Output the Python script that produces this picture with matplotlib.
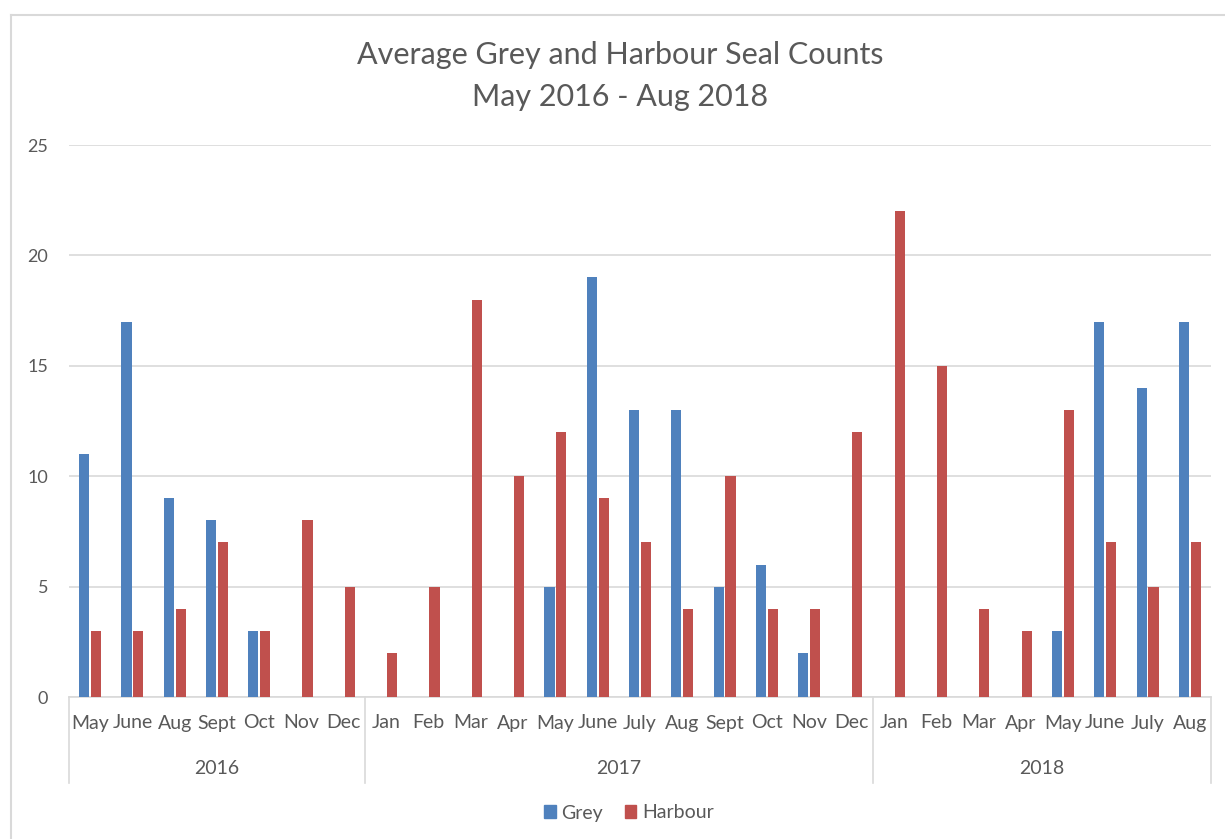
import matplotlib
matplotlib.use("Agg")
import matplotlib.pyplot as plt
from matplotlib.lines import Line2D
from matplotlib.patches import Patch
from matplotlib.transforms import blended_transform_factory
import numpy as np

# Survey months grouped by year
years = ["2016", "2017", "2018"]
months_2016 = ["May", "June", "Aug", "Sept", "Oct", "Nov", "Dec"]
months_2017 = ["Jan", "Feb", "Mar", "Apr", "May", "June", "July", "Aug", "Sept", "Oct", "Nov", "Dec"]
months_2018 = ["Jan", "Feb", "Mar", "Apr", "May", "June", "July", "Aug"]

grey_2016 = [11, 17, 9, 8, 3, 0, 0]
grey_2017 = [0, 0, 0, 0, 5, 19, 13, 13, 5, 6, 2, 0]
grey_2018 = [0, 0, 0, 0, 3, 17, 14, 17]

harbour_2016 = [3, 3, 4, 7, 3, 8, 5]
harbour_2017 = [2, 5, 18, 10, 12, 9, 7, 4, 10, 4, 4, 12]
harbour_2018 = [22, 15, 4, 3, 13, 7, 5, 7]

month_groups = [months_2016, months_2017, months_2018]
months = months_2016 + months_2017 + months_2018
grey = grey_2016 + grey_2017 + grey_2018
harbour = harbour_2016 + harbour_2017 + harbour_2018

GREY_C = "#4F81BD"
HARB_C = "#C0504D"
TEXT_C = "#595959"
LINE_C = "#D9D9D9"

plt.rcParams["font.family"] = ["Lato", "DejaVu Sans"]

W, H = 1225, 839
fig = plt.figure(figsize=(W / 100, H / 100), dpi=100)
fig.patch.set_facecolor("white")


def fy(py):
    # pixel row -> figure fraction
    return 1 - py / H


left, right, top, bottom = 69, 1211, 145, 697
ax = fig.add_axes([left / W, fy(bottom), (right - left) / W, (bottom - top) / H])

x = np.arange(len(months))
bw = 0.24
ax.bar(x - 0.14, grey, width=bw, color=GREY_C, zorder=3)
ax.bar(x + 0.14, harbour, width=bw, color=HARB_C, zorder=3)

ax.set_xlim(-0.5, len(months) - 0.5)
ax.set_ylim(0, 25)
ax.set_yticks(range(0, 26, 5))
ax.yaxis.grid(True, color=LINE_C, linewidth=1.2, zorder=0)
ax.tick_params(axis="y", length=0, pad=15, labelsize=13, labelcolor=TEXT_C)
ax.set_xticks([])
for s in ["top", "right", "left"]:
    ax.spines[s].set_visible(False)
ax.spines["bottom"].set_color(LINE_C)
ax.spines["bottom"].set_linewidth(1.2)

# Month labels, year labels and year dividers below the axis
trans = blended_transform_factory(ax.transData, fig.transFigure)
for i, m in enumerate(months):
    fig.text(i, fy(723), m, transform=trans, ha="center", va="center",
             fontsize=14, color=TEXT_C)

start = 0
bounds = [-0.5]
for yr, grp in zip(years, month_groups):
    end = start + len(grp)
    fig.text((start + end - 1) / 2, fy(768), yr, transform=trans,
             ha="center", va="center", fontsize=14, color=TEXT_C)
    bounds.append(end - 0.5)
    start = end
for b in bounds:
    fig.add_artist(Line2D([b, b], [fy(bottom), fy(783)], transform=trans,
                          color=LINE_C, linewidth=1.2))

fig.text(0.5 + 8 / W, fy(55), "Average Grey and Harbour Seal Counts",
         ha="center", va="center", fontsize=22, color=TEXT_C)
fig.text(0.5 + 8 / W, fy(97), "May 2016 - Aug 2018",
         ha="center", va="center", fontsize=22, color=TEXT_C)

handles = [Patch(color=GREY_C, label="Grey"), Patch(color=HARB_C, label="Harbour")]
fig.legend(handles=handles, loc="center", bbox_to_anchor=(629 / W, fy(813)),
           ncol=2, frameon=False, fontsize=14, labelcolor=TEXT_C,
           handlelength=0.6, handleheight=0.6, handletextpad=0.3, columnspacing=1.1)

# Chart area border
fig.add_artist(Line2D([11 / W, 1.01], [fy(15), fy(15)], transform=fig.transFigure,
                      color=LINE_C, linewidth=1.5))
fig.add_artist(Line2D([11 / W, 11 / W], [fy(15), -0.01], transform=fig.transFigure,
                      color=LINE_C, linewidth=1.5))

fig.savefig("out.png", dpi=100)
